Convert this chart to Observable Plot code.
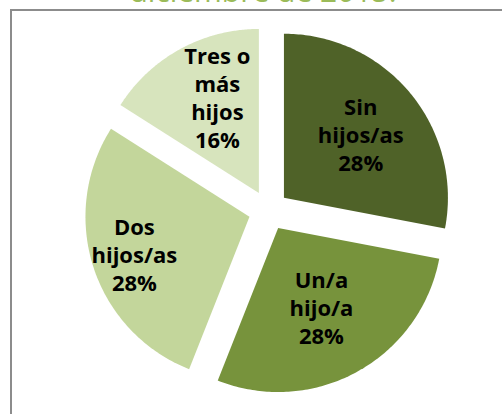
<!DOCTYPE html>
<html>
<head>
<meta charset="utf-8">
<script src="https://cdn.jsdelivr.net/npm/d3@7"></script>
<script src="https://cdn.jsdelivr.net/npm/@observablehq/plot@0.6"></script>
<style>
  html, body { margin: 0; padding: 0; background: #fff; }
  body { position: relative; width: 502px; height: 414px; overflow: hidden; }
  #title { position: absolute; left: 0; top: -24px; width: 526px; text-align: center;
           font-family: "Open Sans", sans-serif; font-size: 30px; line-height: 30px; color: #9bbb59; white-space: nowrap; }
  #box { position: absolute; left: 10px; top: 9px; width: 492px; height: 405px;
         border-top: 2px solid #8c8c8c; border-left: 2px solid #8c8c8c; }
  #box svg { display: block; }
</style>
</head>
<body>
<div id="title">diciembre de 2015.</div>
<div id="box"></div>
<script>
// Data
const categorias = ["Sin hijos/as", "Un/a hijo/a", "Dos hijos/as", "Tres o más hijos"];
const etiquetas = ["Sin\nhijos/as", "Un/a\nhijo/a", "Dos\nhijos/as", "Tres o\nmás\nhijos"];
const porcentajes = [28, 28, 28, 16];
const colores = ["#4f6228", "#77933c", "#c3d69b", "#d7e4bd"];

// Layout (pie radius = 1 unit)
const W = 490, H = 403, R = 164, CX = 256, CY = 199;
const explode = 0.122;
const labelR = [0.73, 0.67, 0.86, 0.76];
const labelTurn = [0, 0, 0, 0.08];

const arcs = d3.pie().sort(null).value(d => d)(porcentajes);
const puntos = [];
const rotulos = [];
arcs.forEach((a, i) => {
  const mid = (a.startAngle + a.endAngle) / 2;
  const ox = Math.sin(mid) * explode, oy = Math.cos(mid) * explode;
  const s = categorias[i];
  puntos.push({s, x: ox, y: oy});
  const n = 120;
  for (let k = 0; k <= n; k++) {
    const t = a.startAngle + (a.endAngle - a.startAngle) * k / n;
    puntos.push({s, x: ox + Math.sin(t), y: oy + Math.cos(t)});
  }
  puntos.push({s, x: ox, y: oy});
  const la = mid + labelTurn[i];
  rotulos.push({
    s,
    x: Math.sin(la) * labelR[i],
    y: Math.cos(la) * labelR[i],
    t: etiquetas[i] + "\n" + porcentajes[i] + "%"
  });
});

const chart = Plot.plot({
  width: W,
  height: H,
  margin: 0,
  x: {domain: [-CX / R, (W - CX) / R], axis: null},
  y: {domain: [-(H - CY) / R, CY / R], axis: null},
  color: {domain: categorias, range: colores},
  style: {background: "transparent"},
  marks: [
    Plot.line(puntos, {x: "x", y: "y", z: "s", fill: "s", stroke: "none", curve: "linear"}),
    Plot.text(rotulos, {x: "x", y: "y", text: "t", fontSize: 22, fontWeight: "bold",
      fontFamily: "Open Sans", fill: "#000", lineHeight: 1.27})
  ]
});
document.getElementById("box").appendChild(chart);
</script>
</body>
</html>
